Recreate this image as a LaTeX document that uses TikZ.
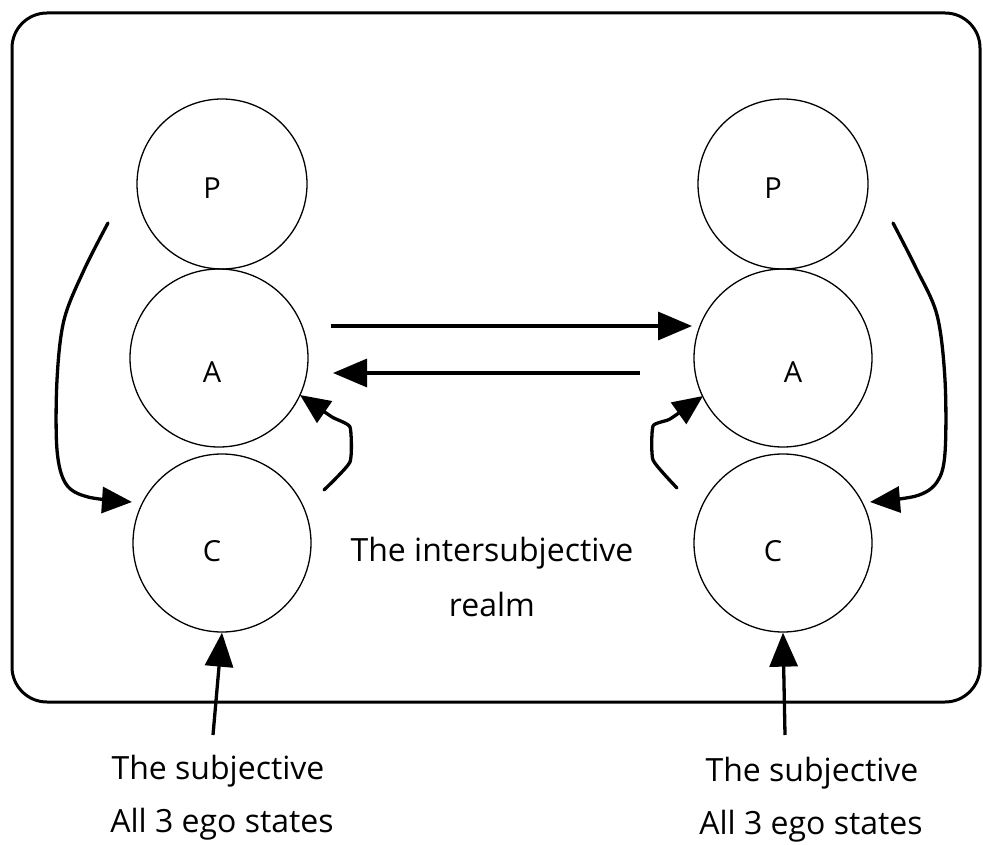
\documentclass[tikz,border=0pt]{standalone}
\usepackage{fontspec}
\setmainfont{Open Sans}
\usetikzlibrary{arrows.meta}
\begin{document}
\begin{tikzpicture}[x=1pt,y=-1pt,
  ego/.style={draw, circle, line width=1.3pt, inner sep=0pt},
  letter/.style={font=\fontsize{29}{33}\selectfont, inner sep=0pt},
  caption/.style={font=\fontsize{32}{38}\selectfont, inner sep=0pt},
  arr/.style={line width=3.3pt, -{Triangle[length=34pt,width=28pt]}},
  curvedarr/.style={line width=3.3pt, line cap=round, line join=round, -{Triangle[length=30pt,width=26pt]}}
]
\useasboundingbox (0,0) rectangle (983,845);

% outer boundary of the intersubjective realm
\draw[line width=3pt, rounded corners=35pt] (12,13) rectangle (980,702);

% left person: ego states
\node[ego, minimum size=170pt] (lP) at (222,184) {};
\node[ego, minimum size=178pt] (lA) at (219,358) {};
\node[ego, minimum size=178pt] (lC) at (222,543) {};
\node[letter] (lPt) at (212,188) {P};
\node[letter] (lAt) at (212,372) {A};
\node[letter] (lCt) at (212,551) {C};

% right person: ego states
\node[ego, minimum size=170pt] (rP) at (783,184) {};
\node[ego, minimum size=178pt] (rA) at (783,358) {};
\node[ego, minimum size=178pt] (rC) at (783,543) {};
\node[letter] (rPt) at (773,188) {P};
\node[letter] (rAt) at (793,372) {A};
\node[letter] (rCt) at (773,551) {C};

% transactions between the two Adults
\coordinate (t1) at (331,326);
\coordinate (t2) at (692,326);
\coordinate (b1) at (640,373);
\coordinate (b2) at (333,373);
\draw[arr] (t1) -- (t2);
\draw[arr] (b1) -- (b2);

% internal dialogue, left
\draw[curvedarr] plot[smooth, tension=0.55] coordinates
  {(108,223) (84,270) (64,320) (57,380) (57,450) (66,484) (88,497) (132,502)};
\draw[curvedarr] plot[smooth, tension=0.3] coordinates
  {(324,490) (350,462) (350,427) (332,417) (300,395)};

% internal dialogue, right
\draw[curvedarr] plot[smooth, tension=0.55] coordinates
  {(893,223) (916,268) (937,315) (945,380) (945,453) (937,482) (916,496) (870,502)};
\draw[curvedarr] plot[smooth, tension=0.3] coordinates
  {(677,488) (653,460) (653,426) (670,419) (703,396)};

% the subjective, from outside the realm
\coordinate (ls) at (213,735);
\coordinate (rs) at (785,735);
\draw[arr] (ls) -- (lC.south);
\draw[arr] (rs) -- (rC.south);

% captions
\node[caption] (mid1) at (492,553) {The intersubjective};
\node[caption] (mid2) at (492,604) {realm};
\node[caption] (ls1) at (218,771) {The subjective};
\node[caption] (ls2) at (222,824) {All 3 ego states};
\node[caption] (rs1) at (812,773) {The subjective};
\node[caption] (rs2) at (811,826) {All 3 ego states};
\end{tikzpicture}
\end{document}
